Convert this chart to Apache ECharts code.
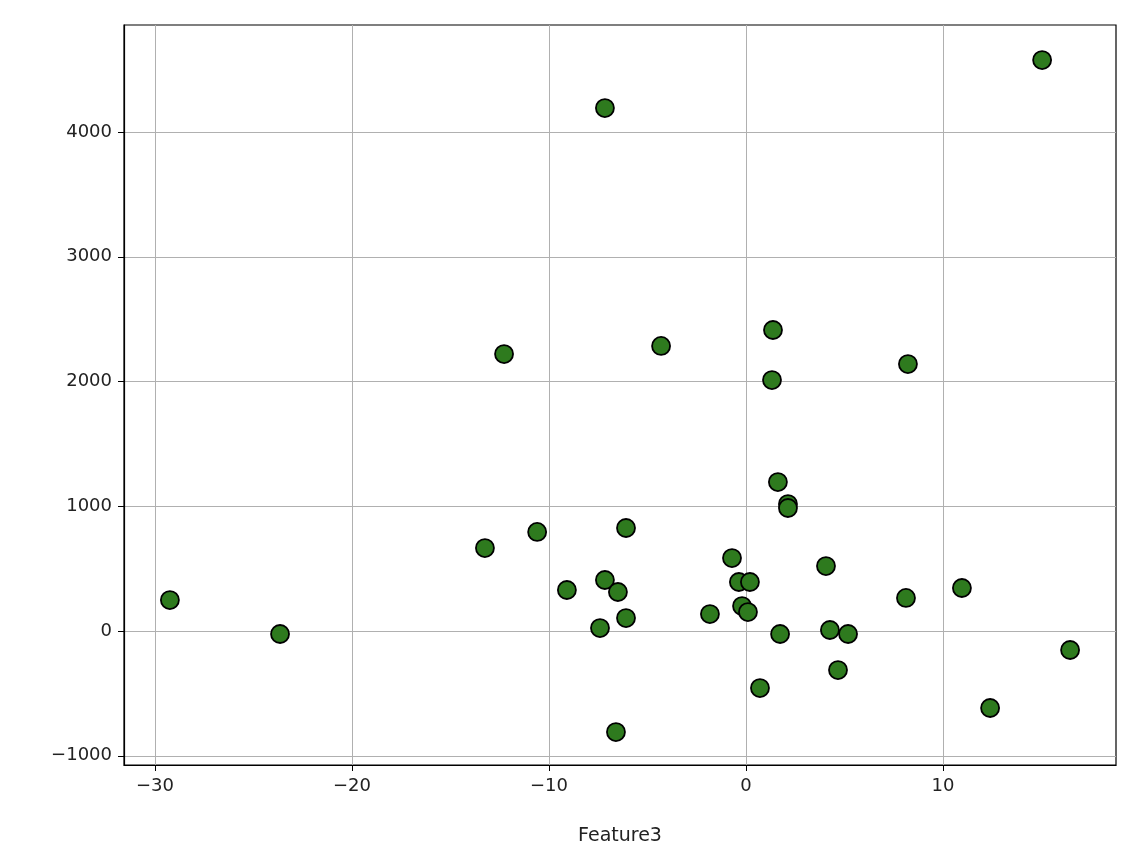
<!DOCTYPE html>
<html><head><meta charset="utf-8">
<script src="https://cdn.jsdelivr.net/npm/echarts@6/dist/echarts.min.js"></script>
<style>html,body{margin:0;padding:0;background:#fff}#c{width:1148px;height:862px}</style>
</head><body><div id="c"></div>
<script>
const xValues=[-29.24,-23.65,-13.25,-12.28,-10.6,-9.09,-7.41,-7.16,-7.16,-6.5,-6.6,-6.09,-6.09,-4.31,-1.83,-0.71,-0.36,0.2,-0.2,0.1,0.71,1.37,1.32,1.62,2.13,2.13,1.73,4.06,4.26,4.67,5.18,8.12,8.22,10.96,12.39,15.03,16.45];
const yValues=[248,-24,665,2220,794,329,24,4192,409,313,-810,826,104,2285,136,585,393,393,200,152,-457,2413,2012,1194,1018,986,-24,521,8,-313,-24,265,2140,345,-617,4577,-152];
const xTicks=[-30,-20,-10,0,10];
const yTicks=[-1000,0,1000,2000,3000,4000];
const fmt=v=>String(v).replace('-','\u2212');
const chart=echarts.init(document.getElementById('c'));
const lineStyle={color:'#b0b0b0',width:1};
chart.setOption({
  animation:false,
  grid:{left:124,right:32,top:25,bottom:97,show:true,borderColor:'#000',borderWidth:1.2},
  xAxis:{type:'value',min:-31.57,max:18.78,name:'Feature3',nameLocation:'middle',nameGap:62,
    nameTextStyle:{color:'#222',fontSize:19,fontFamily:'DejaVu Sans'},
    axisLine:{show:true,onZero:false,lineStyle:{color:'#000',width:1.2}},
    axisTick:{show:true,length:6,lineStyle:{color:'#000'},customValues:xTicks},
    axisLabel:{customValues:xTicks,formatter:fmt,color:'#222',fontSize:18,fontFamily:'DejaVu Sans',margin:12},
    splitLine:{show:true,lineStyle}},
  yAxis:{type:'value',min:-1074,max:4858,
    axisLine:{show:true,onZero:false,lineStyle:{color:'#000',width:1.2}},
    axisTick:{show:true,length:6,lineStyle:{color:'#000'},customValues:yTicks},
    axisLabel:{customValues:yTicks,formatter:fmt,color:'#222',fontSize:18,fontFamily:'DejaVu Sans',margin:12},
    splitLine:{show:true,lineStyle}},
  series:[{type:'scatter',symbolSize:18,data:xValues.map((x,i)=>[x,yValues[i]]),
    itemStyle:{color:'#2e7a1e',borderColor:'#000',borderWidth:1.8,opacity:1}}]
});
</script></body></html>
